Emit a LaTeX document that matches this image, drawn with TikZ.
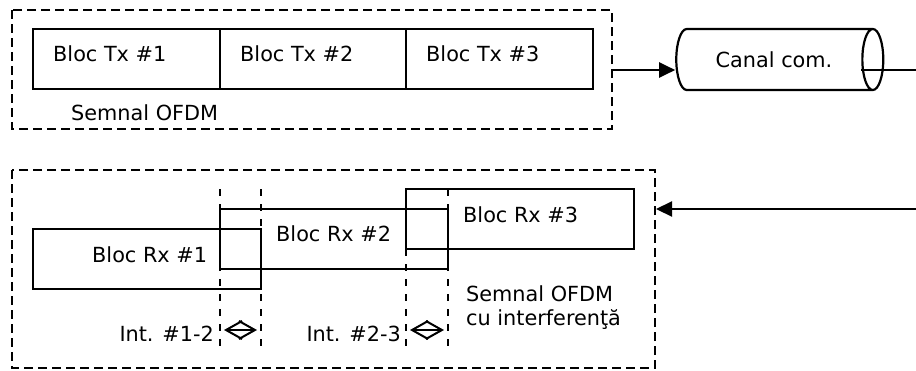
\documentclass[tikz,border=0pt]{standalone}
\usepackage{fontspec}
\setmainfont{DejaVu Sans}
\usetikzlibrary{shapes.geometric,arrows.meta}

\tikzset{%
  grupa/.style={line width=2pt,dash pattern=on 9pt off 5pt},%
  limita/.style={line width=2pt,dash pattern=on 7pt off 8pt},%
  bloc/.style={line width=2.2pt},%
  eticheta/.style={anchor=base west,inner sep=0pt},%
  sageata/.style={line width=2.2pt,-{Triangle[length=16pt,width=15pt]}},%
  interval/.style={line width=2pt,shorten <=4pt,shorten >=4pt,%
    {Straight Barb[length=16pt,width=18pt]}-{Straight Barb[length=16pt,width=18pt]}},%
}

\begin{document}
\begin{tikzpicture}[x=1pt,y=-1pt,font=\fontsize{20.8}{24}\selectfont]%
\useasboundingbox (0,0) rectangle (916,370);%
  % semnalul emis
  \draw[grupa] (12,10) rectangle (612,129);%
  \foreach \xa/\xb/\nr in {33/220/1,220/406/2,406/593/3} {%
    \draw[bloc] (\xa,29) rectangle (\xb,89);%
    \node[eticheta] (tx\nr) at (\xa+20,61) {Bloc Tx \#\nr};%
  }%
  \node[eticheta] (semtx) at (71,120) {Semnal OFDM};%
  % canalul
  \node[draw,bloc,cylinder,aspect=1.3,minimum width=61pt,minimum height=207pt,%
    inner sep=0pt] (canal) at (774,59.5) {Canal com.};%
  \coordinate (txout) at (612,70);%
  \coordinate (chout) at (916,70);%
  \draw[sageata] (txout) -- (canal.west |- txout);%
  \draw[bloc] (861,70) -- (chout);%
  % semnalul receptionat
  \draw[grupa] (12,170) rectangle (655,368);%
  \foreach \x in {220,261,406,448}%
    \draw[limita] (\x,189) -- (\x,350);%
  \foreach \xa/\ya/\xb/\yb/\nr/\tx/\ty in {%
      33/229/261/289/1/92/262,%
      220/209/448/269/2/276/241,%
      406/189/634/249/3/463/222%
    } {%
    \draw[bloc] (\xa,\ya) rectangle (\xb,\yb);%
    \node[eticheta] (rx\nr) at (\tx,\ty) {Bloc Rx \#\nr};%
  }%
  \node[anchor=north west,inner sep=0pt,align=left] (semrx) at (466,285)%
    {Semnal OFDM\\cu interferenţă};%
  \coordinate (rxin) at (916,209);%
  \coordinate (rxbox) at (656,209);%
  \draw[sageata] (rxin) -- (rxbox);%
  % intervalele de interferenta
  \coordinate (i1a) at (220,330);%
  \coordinate (i1b) at (261,330);%
  \coordinate (i2a) at (406,330);%
  \coordinate (i2b) at (448,330);%
  \draw[interval] (i1a) -- (i1b);%
  \draw[interval] (i2a) -- (i2b);%
  \node[eticheta,anchor=base east] (int12) at (214,341) {Int. \#1-2};%
  \node[eticheta,anchor=base east] (int23) at (401,341) {Int. \#2-3};%
\end{tikzpicture}
\end{document}
